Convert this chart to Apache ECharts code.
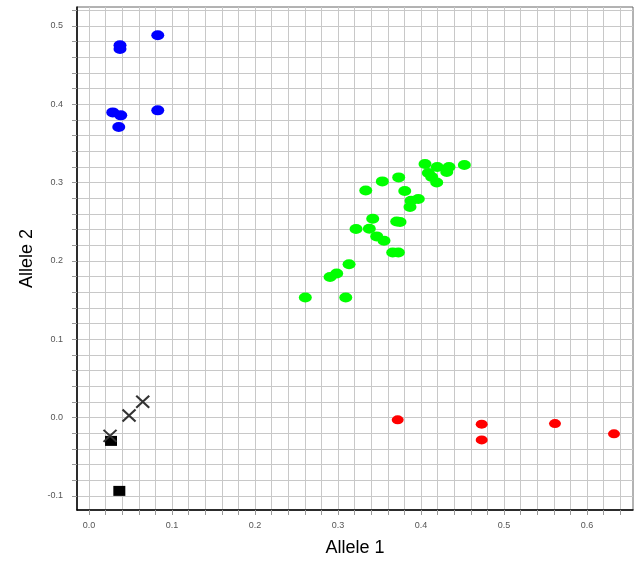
<!DOCTYPE html>
<html>
<head>
<meta charset="utf-8">
<script src="https://cdn.jsdelivr.net/npm/echarts@6/dist/echarts.min.js"></script>
<style>html,body{margin:0;padding:0;background:#fff;}#c{width:637px;height:565px;}</style>
</head>
<body>
<div id="c"></div>
<script>
// Tick / grid values
var xGridValues = [0,0.02,0.04,0.06,0.08,0.1,0.12,0.14,0.16,0.18,0.2,0.22,0.24,0.26,0.28,0.3,0.32,0.34,0.36,0.38,0.4,0.42,0.44,0.46,0.48,0.5,0.52,0.54,0.56,0.58,0.6,0.62,0.64];
var xLabelValues = [0,0.1,0.2,0.3,0.4,0.5,0.6];
var yGridValues = [-0.1,-0.08,-0.06,-0.04,-0.02,0,0.02,0.04,0.06,0.08,0.1,0.12,0.14,0.16,0.18,0.2,0.22,0.24,0.26,0.28,0.3,0.32,0.34,0.36,0.38,0.4,0.42,0.44,0.46,0.48,0.5,0.52];
var yLabelValues = [-0.1,0,0.1,0.2,0.3,0.4,0.5];

// Series data [Allele 1, Allele 2]
var bluePoints = [[0.0828,0.4879],[0.0373,0.4751],[0.0373,0.4705],[0.0286,0.3895],[0.0382,0.3857],[0.0358,0.3709],[0.0828,0.3921]];
var greenPoints = [[0.4048,0.3236],[0.4196,0.3198],[0.4337,0.3198],[0.4522,0.3224],[0.4088,0.3121],[0.4310,0.3134],[0.4129,0.3070],[0.4189,0.3001],[0.3534,0.3014],[0.3731,0.3065],[0.3334,0.2899],[0.3804,0.2891],[0.3967,0.2789],[0.3880,0.2768],[0.3867,0.2687],[0.3418,0.2538],[0.3707,0.2503],[0.3747,0.2496],[0.3217,0.2406],[0.3377,0.2410],[0.3466,0.2312],[0.3554,0.2257],[0.3659,0.2107],[0.3727,0.2107],[0.3133,0.1957],[0.2984,0.1839],[0.2904,0.1793],[0.2606,0.1533],[0.3093,0.1533]];
var redPoints = [[0.3719,-0.0029],[0.4731,-0.0084],[0.4731,-0.0285],[0.5614,-0.0077],[0.6325,-0.0208]];
var crossPoints = [[0.0647,0.0201],[0.0482,0.0026],[0.0253,-0.0234]];
var squarePoints = [[0.0265,-0.0298],[0.0365,-0.0936]];

var chart = echarts.init(document.getElementById('c'));
var fam = '"Liberation Sans", Arial, sans-serif';
function fmt(v){ return (Math.abs(v) < 1e-9 ? 0 : v).toFixed(1); }
chart.setOption({
  animation: false,
  backgroundColor: '#fff',
  grid: { left: 77, right: 4, top: 7, bottom: 55, show: true, borderColor: '#666', borderWidth: 1, containLabel: false },
  xAxis: {
    type: 'value', min: -0.0145, max: 0.6554,
    name: 'Allele 1', nameLocation: 'middle', nameGap: 29,
    nameTextStyle: { fontFamily: fam, fontSize: 18, color: '#000' },
    axisLine: { show: true, onZero: false, lineStyle: { color: '#000', width: 1.5 } },
    axisTick: { show: true, customValues: xGridValues, length: 5, lineStyle: { color: '#999' } },
    axisLabel: { customValues: xLabelValues, formatter: fmt, fontSize: 9, color: '#555', fontFamily: fam, margin: 11 },
    splitLine: { show: true, lineStyle: { color: '#c8c8c8', width: 1 } }
  },
  yAxis: {
    type: 'value', min: -0.118, max: 0.524,
    name: 'Allele 2', nameLocation: 'middle', nameGap: 41,
    nameTextStyle: { fontFamily: fam, fontSize: 18, color: '#000' },
    axisLine: { show: true, onZero: false, lineStyle: { color: '#000', width: 1.5 } },
    axisTick: { show: true, customValues: yGridValues, length: 5, lineStyle: { color: '#999' } },
    axisLabel: { customValues: yLabelValues, formatter: fmt, fontSize: 9, color: '#555', fontFamily: fam, margin: 14 },
    splitLine: { show: true, lineStyle: { color: '#c8c8c8', width: 1 } }
  },
  series: [
    { type: 'scatter', data: greenPoints, symbol: 'circle', symbolSize: [13, 10], itemStyle: { color: '#00ff00', opacity: 1 } },
    { type: 'scatter', data: bluePoints, symbol: 'circle', symbolSize: [13, 10], itemStyle: { color: '#0000ff', opacity: 1 } },
    { type: 'scatter', data: redPoints, symbol: 'circle', symbolSize: [12, 9], itemStyle: { color: '#ff0000', opacity: 1 } },
    { type: 'scatter', data: squarePoints, symbol: 'rect', symbolSize: [12, 10], itemStyle: { color: '#000', opacity: 1 } },
    { type: 'scatter', data: crossPoints, symbol: 'path://M0,0L10,10M10,0L0,10', symbolSize: [13, 12], itemStyle: { color: 'rgba(0,0,0,0)', borderColor: '#333', borderWidth: 2, opacity: 1 } }
  ]
});
</script>
</body>
</html>
